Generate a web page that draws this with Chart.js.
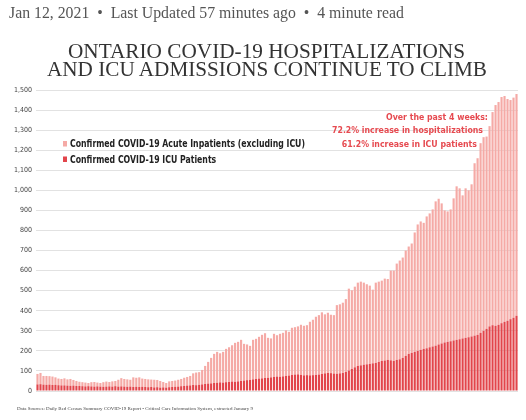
<!DOCTYPE html>
<html><head><meta charset="utf-8">
<script src="https://cdn.jsdelivr.net/npm/chart.js@4"></script>
<style>
html,body{margin:0;padding:0;background:#fff;}
#wrap{position:relative;width:526px;height:420px;overflow:hidden;background:#fff;}
canvas{position:absolute;left:0;top:0;}
.t{position:absolute;white-space:nowrap;transform-origin:0 0;}
#hdr{font:16px 'Liberation Serif',serif;color:#555;}
.title{font:21px 'Liberation Serif',serif;color:#333;}
#foot{font:4.6px 'Liberation Serif',serif;color:#444;}
</style></head>
<body><div id="wrap">
<canvas id="c" width="526" height="420"></canvas>
<div class="t" id="hdr">Jan 12, 2021 &nbsp;•&nbsp; Last Updated 57 minutes ago &nbsp;•&nbsp; 4 minute read</div>
<div class="t title" id="t1">ONTARIO COVID-19 HOSPITALIZATIONS</div>
<div class="t title" id="t2">AND ICU ADMISSIONS CONTINUE TO CLIMB</div>
<div class="t" id="foot">Data Sources: Daily Bed Census Summary COVID-19 Report • Critical Care Information System, extracted January 9</div>
</div>
<script>
// ICU patients per day, Aug 1 2020 .. Jan 8 2021
const icu = [
33,34,32,31,32,30,31,
29,28,28,27,26,27,25,
25,24,23,24,23,22,23,
22,21,22,23,22,24,22,
23,22,21,22,20,21,20,
21,20,19,20,18,19,17,
18,17,19,20,21,22,24,
25,27,28,30,29,31,33,
35,37,38,40,41,43,42,
44,45,47,46,48,50,52,
54,55,58,60,62,63,65,
66,68,70,72,71,73,75,
77,80,82,83,80,78,79,
78,79,80,82,85,88,90,
89,87,86,88,90,95,102,
110,118,125,128,131,133,135,
138,140,145,150,152,155,153,
150,155,158,165,175,185,190,
195,200,205,210,213,218,222,
226,232,237,242,245,248,252,
255,258,262,265,268,272,276,
280,290,300,310,322,328,325,
330,338,345,350,358,365,375
];
// Acute inpatients (excluding ICU) per day
const acute = [
52,56,43,44,42,42,37,
33,32,35,31,34,28,25,
21,20,19,16,21,23,19,
18,23,25,22,26,26,34,
41,38,37,34,48,45,48,
41,40,39,37,38,36,33,
27,23,29,30,31,34,36,
41,43,47,58,63,63,72,
90,108,127,145,154,145,153,
166,173,181,194,197,205,183,
178,170,197,200,208,217,223,
199,194,215,206,214,217,227,
218,235,236,239,250,247,249,
267,276,290,296,307,294,300,
291,291,342,344,350,363,408,
392,402,415,417,409,399,390,
367,400,400,400,408,403,447,
450,480,492,500,525,535,545,
595,630,640,628,657,667,683,
719,726,698,658,650,657,708,
765,752,713,745,732,758,859,
880,945,965,958,998,1062,1100,
1110,1127,1125,1105,1092,1097,1105
];
const categories = acute.map((_, i) => new Date(Date.UTC(2020, 7, 1 + i)).toISOString().slice(0, 10));
const tickLabels = ['Aug. 1','8','15','22','29','Sep. 5','12','19','26','Oct. 3','10','17','24','31','Nov. 7','14','21','28','Dec. 5','12','19','26','Jan. 2'];
const seriesNames = ['Confirmed COVID-19 Acute Inpatients (excluding ICU)', 'Confirmed COVID-19 ICU Patients'];
const noteLines = ['Over the past 4 weeks:', '72.2% increase in hospitalizations', '61.2% increase in ICU patients'];

function fit(id, left, top, width) {
  const el = document.getElementById(id);
  el.style.left = left + 'px';
  el.style.top = top + 'px';
  const w = el.getBoundingClientRect().width;
  el.style.transform = 'scaleX(' + (width / w) + ')';
}
fit('hdr', 9, 4, 395);
fit('t1', 68, 38.5, 397);
fit('t2', 47, 57.3, 440);
fit('foot', 17, 406, 236);

const COND = "'Liberation Sans Narrow','DejaVu Sans Condensed',Roboto,sans-serif";
const pink = '#f5aaa6';
const red = '#e2454b';

const overlay = {
  id: 'overlay',
  afterDraw(chart) {
    const ctx = chart.ctx;
    const ds = chart.data.datasets;
    ctx.save();
    // legend
    ctx.font = 'bold 10px ' + COND;
    const sx = 235 / ctx.measureText(ds[1].label).width;
    const rows = [[ds[1], 147], [ds[0], 162.5]];
    rows.forEach(([d, base]) => {
      ctx.fillStyle = d.backgroundColor;
      ctx.fillRect(63, base - 6, 4, 5.5);
      ctx.save();
      ctx.translate(70, base);
      ctx.scale(sx, 1);
      ctx.fillStyle = '#222';
      ctx.textAlign = 'left';
      ctx.fillText(d.label, 0, 0);
      ctx.restore();
    });
    // annotation
    ctx.font = 'bold 9.5px ' + COND;
    const sx2 = 151 / ctx.measureText(noteLines[1]).width;
    const ends = [488, 483, 477];
    const bases = [120, 133.3, 146.7];
    noteLines.forEach((s, i) => {
      ctx.save();
      ctx.translate(ends[i], bases[i]);
      ctx.scale(sx2, 1);
      ctx.fillStyle = '#e64a50';
      ctx.textAlign = 'right';
      ctx.fillText(s, 0, 0);
      ctx.restore();
    });
    ctx.restore();
  }
};

new Chart(document.getElementById('c'), {
  type: 'bar',
  data: {
    labels: categories,
    datasets: [
      { label: seriesNames[1], data: icu, backgroundColor: red, stack: 's', barPercentage: 1, categoryPercentage: 0.72 },
      { label: seriesNames[0], data: acute, backgroundColor: pink, stack: 's', barPercentage: 1, categoryPercentage: 0.72 }
    ]
  },
  options: {
    responsive: false,
    animation: false,
    layout: { padding: { top: 90, left: 0, right: 8, bottom: 19 } },
    plugins: { legend: { display: false }, tooltip: { enabled: false }, title: { display: false } },
    scales: {
      x: {
        stacked: true,
        grid: { display: false },
        border: { display: false },
        ticks: {
          autoSkip: false, maxRotation: 0, minRotation: 0, padding: 3,
          color: '#333', font: { size: 7.5, family: COND },
          callback: (v, i) => (i % 7 === 0 ? tickLabels[i / 7] : '')
        },
        afterFit: s => { s.height = 10; }
      },
      y: {
        stacked: true, min: 0, max: 1500,
        grid: { color: '#e2e2e2', lineWidth: 1, drawTicks: false },
        border: { display: false },
        ticks: { stepSize: 100, padding: 4, color: '#444', font: { size: 7, family: COND } },
        afterFit: s => { s.width = 36; }
      }
    }
  },
  plugins: [overlay]
});
</script>
</body></html>
